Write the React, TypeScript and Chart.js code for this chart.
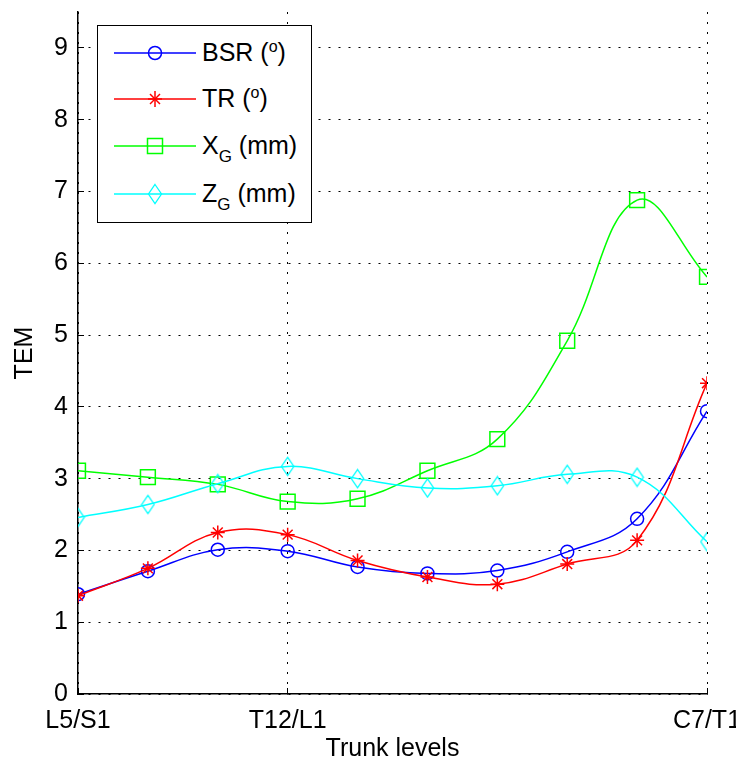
import React, { useEffect, useRef } from "react";
import { Chart, registerables } from "chart.js";

Chart.register(...registerables);

// ---- data ----
const levelPositions = [1, 2, 3, 4, 5, 6, 7, 8, 9, 10];
const tickPositions = [1, 4, 10];
const tickLabels = ["L5/S1", "T12/L1", "C7/T1"];
const yTickValues = [0, 1, 2, 3, 4, 5, 6, 7, 8, 9];
const bsrValues = [1.39, 1.71, 2.01, 1.99, 1.77, 1.68, 1.72, 1.98, 2.44, 3.94];
const trValues = [1.37, 1.75, 2.25, 2.22, 1.86, 1.63, 1.53, 1.81, 2.14, 4.33];
const xgValues = [3.11, 3.02, 2.92, 2.68, 2.72, 3.11, 3.55, 4.92, 6.88, 5.81];
const zgValues = [2.46, 2.64, 2.93, 3.17, 3.0, 2.87, 2.9, 3.06, 3.02, 2.12];

const FONT = "'Liberation Sans', Arial, Helvetica, sans-serif";
const FS = 25;
const BLUE = "#0000ff";
const RED = "#ff0000";
const GREEN = "#00ff00";
const CYAN = "#00ffff";

function makeDiamond(w: number, h: number, color: string, lw: number) {
  const c = document.createElement("canvas");
  c.width = w + lw * 2;
  c.height = h + lw * 2;
  const ctx = c.getContext("2d")!;
  ctx.strokeStyle = color;
  ctx.lineWidth = lw;
  ctx.beginPath();
  ctx.moveTo(c.width / 2, lw);
  ctx.lineTo(c.width - lw, c.height / 2);
  ctx.lineTo(c.width / 2, c.height - lw);
  ctx.lineTo(lw, c.height / 2);
  ctx.closePath();
  ctx.stroke();
  return c;
}

function toPoints(vals: number[]) {
  return vals.map((v, i) => ({ x: levelPositions[i], y: v }));
}

function LegendRow({ top, color, marker, children }: any) {
  return (
    <div style={{ position: "absolute", left: 0, top: top, width: 215, height: 0 }}>
      <svg width={100} height={30} style={{ position: "absolute", left: 12, top: -15 }}>
        <line x1={4} y1={15} x2={86} y2={15} stroke={color} strokeWidth={1.5} />
        {marker}
      </svg>
      <div
        style={{
          position: "absolute",
          left: 104,
          top: -16,
          font: `${FS}px ${FONT}`,
          lineHeight: "30px",
          whiteSpace: "nowrap",
          color: "#000",
        }}
      >
        {children}
      </div>
    </div>
  );
}

const supStyle = { fontSize: 16, verticalAlign: 0, position: "relative", top: -9 } as any;
const subStyle = { fontSize: 17, verticalAlign: 0, position: "relative", top: 8 } as any;

export default function App() {
  const canvasRef = useRef<HTMLCanvasElement | null>(null);

  useEffect(() => {
    document.body.style.margin = "0";
    const diamond = makeDiamond(13, 19, CYAN, 1.3);
    const common = {
      backgroundColor: "transparent",
      borderWidth: 1.5,
      pointBackgroundColor: "transparent",
      pointBorderWidth: 1.5,
      tension: 0.4,
    };
    const chart = new Chart(canvasRef.current!, {
      type: "line",
      data: {
        datasets: [
          {
            ...common,
            label: "BSR",
            data: toPoints(bsrValues),
            borderColor: BLUE,
            pointStyle: "circle",
            pointRadius: 6.5,
            pointBorderColor: BLUE,
            order: 4,
          },
          {
            ...common,
            label: "TR",
            data: toPoints(trValues),
            borderColor: RED,
            pointStyle: "star",
            pointRadius: 7,
            pointBorderColor: RED,
            order: 3,
          },
          {
            ...common,
            label: "XG",
            data: toPoints(xgValues),
            borderColor: GREEN,
            pointStyle: "rect",
            pointRadius: 10.5,
            pointBorderColor: GREEN,
            order: 2,
          },
          {
            ...common,
            label: "ZG",
            data: toPoints(zgValues),
            borderColor: CYAN,
            pointStyle: diamond as any,
            pointRadius: 8,
            pointBorderColor: CYAN,
            order: 1,
          },
        ],
      },
      options: {
        animation: false,
        responsive: false,
        maintainAspectRatio: false,
        layout: { padding: { top: 10, right: 29, bottom: 0, left: 0 } },
        plugins: {
          legend: { display: false },
          tooltip: { enabled: false },
        },
        scales: {
          x: {
            type: "linear",
            min: 1,
            max: 10,
            afterBuildTicks: (scale: any) => {
              scale.ticks = tickPositions.map((v) => ({ value: v }));
            },
            afterFit: (scale: any) => {
              scale.height = 78;
              scale.paddingLeft = 0;
              scale.paddingRight = 0;
            },
            ticks: {
              autoSkip: false,
              maxRotation: 0,
              padding: 18,
              color: "#000",
              font: { family: FONT, size: FS },
              callback: (v: any) => {
                const i = tickPositions.indexOf(Number(v));
                return i >= 0 ? tickLabels[i] : "";
              },
            },
            grid: {
              color: "#000",
              lineWidth: 1,
              drawTicks: true,
              tickLength: -6,
              tickColor: "#000",
              tickWidth: 1,
            },
            border: { display: true, color: "#000", width: 1.5, dash: [2, 8] },
            title: {
              display: true,
              text: "Trunk levels",
              color: "#000",
              font: { family: FONT, size: FS },
              padding: { top: 0, bottom: 8 },
            },
          },
          y: {
            type: "linear",
            min: 0,
            max: 9.5,
            afterBuildTicks: (scale: any) => {
              scale.ticks = yTickValues.map((v) => ({ value: v }));
            },
            afterFit: (scale: any) => {
              scale.width = 78;
              scale.paddingTop = 0;
              scale.paddingBottom = 0;
            },
            ticks: {
              padding: 16,
              color: "#000",
              font: { family: FONT, size: FS },
            },
            grid: {
              color: "#000",
              lineWidth: 1,
              drawTicks: true,
              tickLength: -6,
              tickColor: "#000",
              tickWidth: 1,
            },
            border: { display: true, color: "#000", width: 1.5, dash: [2, 8] },
            title: {
              display: true,
              text: "TEM",
              color: "#000",
              font: { family: FONT, size: FS },
              padding: { top: 10, bottom: 0 },
            },
          },
        },
      },
    });
    return () => chart.destroy();
  }, []);

  return (
    <div style={{ position: "relative", width: 736, height: 772, background: "#fff" }}>
      <canvas ref={canvasRef} width={736} height={772} style={{ display: "block" }} />
      <div
        style={{
          position: "absolute",
          left: 97,
          top: 25,
          width: 213,
          height: 196,
          border: "1.5px solid #000",
          background: "#fff",
        }}
      >
        <LegendRow
          top={27}
          color={BLUE}
          marker={<circle cx={45} cy={15} r={6.5} fill="none" stroke={BLUE} strokeWidth={1.5} />}
        >
          BSR (<sup style={supStyle}>o</sup>)
        </LegendRow>
        <LegendRow
          top={73}
          color={RED}
          marker={
            <g stroke={RED} strokeWidth={1.5}>
              <line x1={45} y1={7} x2={45} y2={23} />
              <line x1={38} y1={15} x2={52} y2={15} />
              <line x1={40} y1={10} x2={50} y2={20} />
              <line x1={50} y1={10} x2={40} y2={20} />
            </g>
          }
        >
          TR (<sup style={supStyle}>o</sup>)
        </LegendRow>
        <LegendRow
          top={120}
          color={GREEN}
          marker={<rect x={37.5} y={7.5} width={15} height={15} fill="none" stroke={GREEN} strokeWidth={1.5} />}
        >
          X<sub style={subStyle}>G</sub> (mm)
        </LegendRow>
        <LegendRow
          top={168}
          color={CYAN}
          marker={<polygon points="45,5.5 51.5,15 45,24.5 38.5,15" fill="none" stroke={CYAN} strokeWidth={1.3} />}
        >
          Z<sub style={subStyle}>G</sub> (mm)
        </LegendRow>
      </div>
    </div>
  );
}
